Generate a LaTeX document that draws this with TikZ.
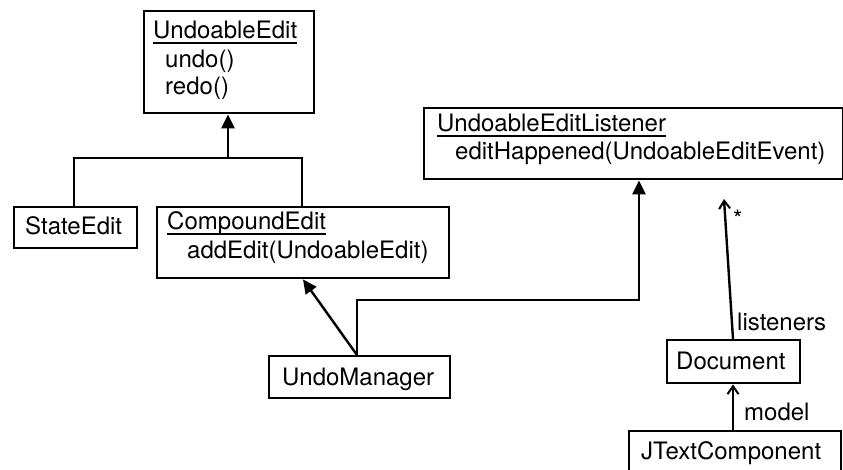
\documentclass[tikz,border=0pt]{standalone}
\usepackage{fontspec}
\setmainfont{TeX Gyre Heros}
\usetikzlibrary{arrows.meta}
\begin{document}
\begin{tikzpicture}[x=1pt,y=-1pt,
  every node/.style={font=\fontsize{24}{28}\selectfont},
  umlbox/.style={draw, line width=2.4pt, inner sep=0pt, anchor=north west},
  txt/.style={inner sep=0pt, anchor=base west},
  conn/.style={line width=2.4pt},
  gen/.style={conn, -{Triangle[length=14pt,width=13pt]}},
  nav/.style={conn, -{Straight Barb[length=8pt,width=11pt,line width=2pt]}},
  uline/.style={line width=1.6pt}]
\useasboundingbox (0,0) rectangle (843,470);
% boxes
\node[umlbox, minimum width=170pt, minimum height=102pt] (ue) at (143,10) {};
\node[umlbox, minimum width=123pt, minimum height=41pt] (se) at (13,206) {};
\node[umlbox, minimum width=292pt, minimum height=71pt] (ce) at (156,206) {};
\node[umlbox, minimum width=419pt, minimum height=71pt] (uel) at (423,107) {};
\node[umlbox, minimum width=181pt, minimum height=42pt] (um) at (268,355) {};
\node[umlbox, minimum width=133pt, minimum height=43pt] (doc) at (666,339) {};
\node[umlbox, minimum width=212pt, minimum height=50pt] (jtc) at (628,430) {};
% texts
\node[txt] (uet) at (153,39) {UndoableEdit};
\draw[uline] ([yshift=-4pt]uet.base west) -- ([yshift=-4pt]uet.base east);
\node[txt] (ueu) at (165,68) {undo()};
\node[txt] (uer) at (165,95) {redo()};
\node[txt] (set) at (25,235) {StateEdit};
\node[txt] (cet) at (167,230) {CompoundEdit};
\draw[uline] ([yshift=-4pt]cet.base west) -- ([yshift=-4pt]cet.base east);
\node[txt] (cea) at (187,259) {addEdit(UndoableEdit)};
\node[txt] (uelt) at (437,132) {UndoableEditListener};
\draw[uline] ([yshift=-4pt]uelt.base west) -- ([yshift=-4pt]uelt.base east);
\node[txt] (uele) at (455,160) {editHappened(UndoableEditEvent)};
\node[txt] (umt) at (282,385) {UndoManager};
\node[txt] (doct) at (676,369) {Document};
\node[txt] (jtct) at (641,459) {JTextComponent};
% connectors
\coordinate (split) at (228,158);
\draw[gen] (split) -- (ue.south -| split);
\draw[conn] (se.north -| 74,0) |- (split) -| (ce.north -| 302,0);
\draw[gen] (um.north -| 357,0) -- (ce.south -| 303,0);
\draw[gen] (um.north -| 357,0) |- (639,300) -- (uel.south -| 639,0);
\coordinate (lend) at (724,199);
\draw[nav] (doc.north -| 733,0) -- (lend);
\node[txt] (star) at (733,228) {*};
\node[txt] (lis) at (737,330) {listeners};
\draw[nav] (jtc.north -| 733,0) -- (doc.south -| 733,0);
\node[txt] (mod) at (744,420) {model};
\end{tikzpicture}
\end{document}
